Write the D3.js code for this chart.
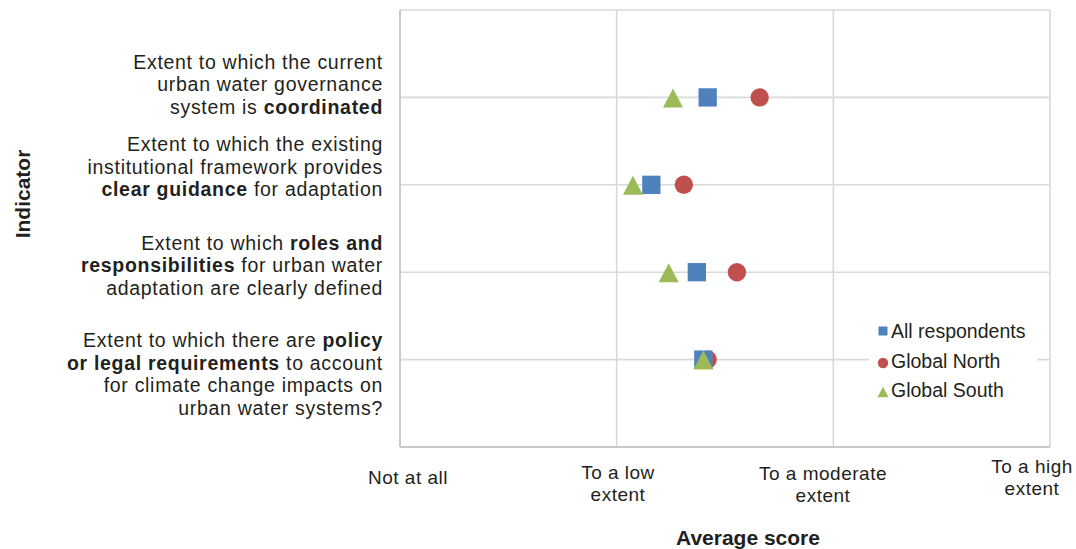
<!DOCTYPE html>
<html>
<head>
<meta charset="utf-8">
<script src="https://cdn.jsdelivr.net/npm/d3@7"></script>
<style>
  body { margin: 0; background: #fff; }
  svg { display: block; font-family: "Liberation Sans", Arial, sans-serif; }
</style>
</head>
<body>
<svg id="chart" width="1076" height="549"></svg>
<script>
// ---------- data ----------
// Indicators from top to bottom; each label given as lines of [text, bold] runs
const indicators = ["coordinated", "guidance", "roles", "policy"];
const indicatorLabels = [
  [[["Extent to which the current", false]],
   [["urban water governance", false]],
   [["system is ", false], ["coordinated", true]]],
  [[["Extent to which the existing", false]],
   [["institutional framework provides", false]],
   [["clear guidance", true], [" for adaptation", false]]],
  [[["Extent to which ", false], ["roles and", true]],
   [["responsibilities", true], [" for urban water", false]],
   [["adaptation are clearly defined", false]]],
  [[["Extent to which there are ", false], ["policy", true]],
   [["or legal requirements", true], [" to account", false]],
   [["for climate change impacts on", false]],
   [["urban water systems?", false]]]
];
const seriesNames = ["All respondents", "Global North", "Global South"];
const allRespondents = [1.42, 1.16, 1.37, 1.40];
const globalNorth    = [1.66, 1.31, 1.555, 1.42];
const globalSouth    = [1.26, 1.075, 1.24, 1.40];
const xTickValues = [0, 1, 2, 3];
const xTickLabels = [["Not at all"], ["To a low", "extent"], ["To a moderate", "extent"], ["To a high", "extent"]];

// ---------- layout ----------
const svg = d3.select("#chart");
const plot = { left: 400, right: 1050, top: 10, bottom: 447 };
const x = d3.scaleLinear().domain([0, 3]).range([plot.left, plot.right]);
const y = d3.scaleLinear().domain([0, 5]).range([plot.bottom, plot.top]);
// category positions: top indicator at 4, bottom at 1
const yPos = i => y(4 - i);

const colors = ["#4F81BD", "#C0504D", "#9BBB59"];
const textColor = "#231f20";
const gridColor = "#d9d9d9";

// gridlines
const g = svg.append("g");
g.selectAll("line.vgrid").data(xTickValues).join("line")
  .attr("x1", d => x(d)).attr("x2", d => x(d))
  .attr("y1", plot.top).attr("y2", plot.bottom)
  .attr("stroke", gridColor).attr("stroke-width", 1.6);
g.selectAll("line.hgrid").data([0, 1, 2, 3, 4, 5]).join("line")
  .attr("x1", plot.left).attr("x2", plot.right)
  .attr("y1", d => y(d)).attr("y2", d => y(d))
  .attr("stroke", gridColor).attr("stroke-width", 1.6);
// axis lines (slightly darker)
g.append("line").attr("x1", plot.left).attr("x2", plot.left).attr("y1", plot.top).attr("y2", plot.bottom)
  .attr("stroke", "#c8c8c8").attr("stroke-width", 1.8);
g.append("line").attr("x1", plot.left).attr("x2", plot.right).attr("y1", plot.bottom).attr("y2", plot.bottom)
  .attr("stroke", "#c8c8c8").attr("stroke-width", 1.8);

// legend background (covers gridline)
const legend = svg.append("g");
legend.append("rect").attr("x", 869).attr("y", 316).attr("width", 168).attr("height", 90).attr("fill", "#fff");

// custom triangle centred on its bounding box
const triBox = {
  draw(ctx, size) {
    const w = Math.sqrt(size), h = w * 0.95;
    ctx.moveTo(0, -h / 2);
    ctx.lineTo(w / 2, h / 2);
    ctx.lineTo(-w / 2, h / 2);
    ctx.closePath();
  }
};

// markers
const sym = [d3.symbolSquare, d3.symbolCircle, triBox];
const sizes = [18.3 * 18.3, Math.PI * 9.2 * 9.2, 20 * 20];
const seriesData = [allRespondents, globalNorth, globalSouth];
// draw order: North, All, South (South on top)
[1, 0, 2].forEach(s => {
  svg.append("g").selectAll("path").data(seriesData[s]).join("path")
    .attr("d", d3.symbol().type(sym[s]).size(sizes[s]))
    .attr("transform", (d, i) => `translate(${x(d)},${yPos(i) + (s === 2 ? 0.5 : 0)})`)
    .attr("fill", colors[s]);
});

// y labels (one text element per indicator, lines as tspans)
const labelCenterOffset = [-13, -18, -7, 14.5];   // centre of label block relative to its gridline
const lineH = 22.5;
indicatorLabels.forEach((lines, i) => {
  const t = svg.append("text")
    .attr("text-anchor", "end")
    .attr("font-size", 19.5).attr("letter-spacing", 0.7).attr("fill", textColor);
  const first = yPos(i) + labelCenterOffset[i] - (lines.length - 1) * lineH / 2;
  lines.forEach((runs, j) => {
    runs.forEach((r, k) => {
      const ts = t.append("tspan").text(r[0]).attr("font-weight", r[1] ? "bold" : "normal");
      if (k === 0) ts.attr("x", 383).attr("y", first + j * lineH + 7);
    });
  });
});

// x tick labels
const xLabelCenters = [408, 618, 823, 1032];
const xLabelTop = [477, 472, 472.5, 466];
xTickLabels.forEach((lines, i) => {
  const t = svg.append("text").attr("text-anchor", "middle")
    .attr("font-size", 19).attr("letter-spacing", 0.5).attr("fill", textColor);
  lines.forEach((l, j) => {
    t.append("tspan").attr("x", xLabelCenters[i]).attr("y", xLabelTop[i] + j * 22 + 7).text(l);
  });
});

// axis titles
svg.append("text").attr("x", 748).attr("y", 537).attr("text-anchor", "middle")
  .attr("dominant-baseline", "central").attr("font-size", 21).attr("font-weight", "bold")
  .attr("fill", textColor).text("Average score");
svg.append("text").attr("transform", "translate(22,194) rotate(-90)").attr("text-anchor", "middle")
  .attr("dominant-baseline", "central").attr("font-size", 21).attr("font-weight", "bold")
  .attr("fill", textColor).text("Indicator");

// legend
const legY = [331, 360.5, 390];
const legSizes = [9 * 9, Math.PI * 5.2 * 5.2, 11 * 11];
seriesNames.forEach((n, s) => {
  legend.append("path").attr("d", d3.symbol().type(sym[s]).size(legSizes[s]))
    .attr("transform", `translate(${883},${legY[s] + (s === 1 ? 2.5 : s === 2 ? 2 : 0)})`)
    .attr("fill", colors[s]);
  legend.append("text").attr("x", 891).attr("y", legY[s]).attr("dominant-baseline", "central")
    .attr("font-size", 19.5).attr("fill", textColor).text(n);
});
</script>
</body>
</html>
